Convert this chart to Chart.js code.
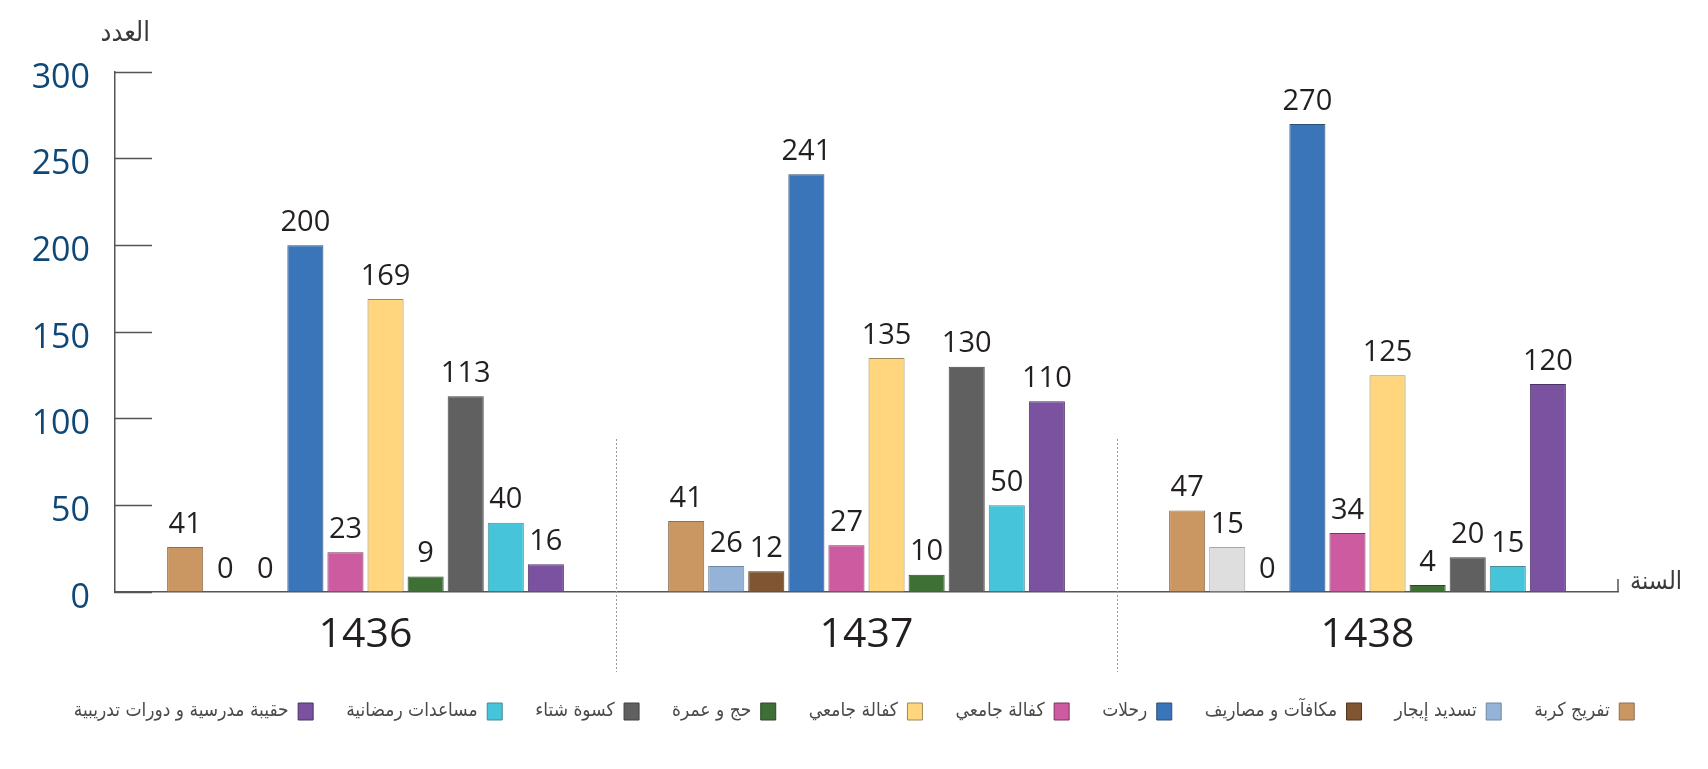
<!DOCTYPE html>
<html>
<head>
<meta charset="utf-8">
<script src="https://cdn.jsdelivr.net/npm/chart.js@4/dist/chart.umd.min.js"></script>
<style>
  html, body { margin: 0; padding: 0; background: #ffffff; }
  #wrap { width: 1708px; height: 769px; position: relative; }
</style>
</head>
<body>
<div id="wrap"><canvas id="c" width="1708" height="769"></canvas></div>
<script>
// ---- data ----
const years = ['1436', '1437', '1438'];
const seriesNames = [
  'تفريج كربة',
  'تسديد إيجار',
  'مكافآت و مصاريف',
  'رحلات',
  'كفالة جامعي',
  'كفالة جامعي',
  'حج و عمرة',
  'كسوة شتاء',
  'مساعدات رمضانية',
  'حقيبة مدرسية و دورات تدريبية'
];
// bar heights as drawn
const reliefValues    = [26, 41, 47];
const rentValues      = [0, 15, 26];
const rewardValues    = [0, 12, 0];
const tripValues      = [200, 241, 270];
const student1Values  = [23, 27, 34];
const student2Values  = [169, 135, 125];
const hajjValues      = [9, 10, 4];
const winterValues    = [113, 130, 20];
const ramadanValues   = [40, 50, 15];
const schoolValues    = [16, 110, 120];
// value labels as printed above the bars
const reliefLabels    = ['41', '41', '47'];
const rentLabels      = ['0', '26', '15'];
const rewardLabels    = ['0', '12', '0'];
const tripLabels      = ['200', '241', '270'];
const student1Labels  = ['23', '27', '34'];
const student2Labels  = ['169', '135', '125'];
const hajjLabels      = ['9', '10', '4'];
const winterLabels    = ['113', '130', '20'];
const ramadanLabels   = ['40', '50', '15'];
const schoolLabels    = ['16', '110', '120'];
const yTicks = [0, 50, 100, 150, 200, 250, 300];
const yAxisTitle = 'العدد';
const xAxisTitle = 'السنة';

// ---- styles ----
const allValues = [reliefValues, rentValues, rewardValues, tripValues, student1Values,
  student2Values, hajjValues, winterValues, ramadanValues, schoolValues];
const allLabels = [reliefLabels, rentLabels, rewardLabels, tripLabels, student1Labels,
  student2Labels, hajjLabels, winterLabels, ramadanLabels, schoolLabels];
const fills = ['#CA9763', ['#95B3D7', '#95B3D7', '#DEDEDE'], '#7F5631', '#3A74B9', '#CD5BA0',
  '#FFD57D', '#3E7035', '#606060', '#46C4D9', '#7B52A0'];
const strokes = ['#8C7055', ['#6F87A3', '#6F87A3', '#A8A8A8'], '#4F3520', '#2F4F75', '#7A3560',
  '#9C8A5A', '#2A4A24', '#404040', '#4A8A95', '#4A3265'];

const datasets = seriesNames.map((name, i) => ({
  label: name,
  data: allValues[i],
  valueLabels: allLabels[i],
  backgroundColor: fills[i],
  borderColor: strokes[i],
  borderWidth: 1,
  categoryPercentage: 0.8,
  barPercentage: 0.9
}));

const decorPlugin = {
  id: 'decor',
  afterDatasetsDraw(chart) {
    const ctx = chart.ctx;
    const xs = chart.scales.x;
    const ca = chart.chartArea;
    ctx.save();
    // value labels
    ctx.font = '29px "Open Sans", "Liberation Sans", sans-serif';
    ctx.fillStyle = '#231F20';
    ctx.textAlign = 'center';
    ctx.textBaseline = 'bottom';
    chart.data.datasets.forEach((ds, di) => {
      const meta = chart.getDatasetMeta(di);
      meta.data.forEach((el, j) => {
        ctx.fillText(ds.valueLabels[j], el.x, el.y - 8);
      });
    });
    // dotted separators between years
    ctx.strokeStyle = '#9A9A9A';
    ctx.lineWidth = 1;
    ctx.setLineDash([2, 2]);
    for (let i = 0; i < years.length - 1; i++) {
      const x = Math.round((xs.getPixelForValue(i) + xs.getPixelForValue(i + 1)) / 2) + 0.5;
      ctx.beginPath();
      ctx.moveTo(x, ca.bottom - 153);
      ctx.lineTo(x, ca.bottom + 80);
      ctx.stroke();
    }
    ctx.setLineDash([]);
    // end tick of the x axis
    ctx.strokeStyle = '#555555';
    ctx.lineWidth = 1.5;
    ctx.beginPath();
    ctx.moveTo(ca.right, ca.bottom - 13);
    ctx.lineTo(ca.right, ca.bottom);
    ctx.stroke();
    // axis titles
    ctx.fillStyle = '#3A3A3A';
    ctx.font = '27px "DejaVu Sans Condensed", "DejaVu Sans", sans-serif';
    ctx.textAlign = 'right';
    ctx.textBaseline = 'alphabetic';
    ctx.fillText(yAxisTitle, ca.left + 35, ca.top - 31);
    ctx.font = '25px "DejaVu Sans Condensed", "DejaVu Sans", sans-serif';
    ctx.textAlign = 'left';
    ctx.fillText(xAxisTitle, ca.right + 12, ca.bottom - 3);
    ctx.restore();
  }
};

new Chart(document.getElementById('c'), {
  type: 'bar',
  data: { labels: years, datasets: datasets },
  plugins: [decorPlugin],
  options: {
    responsive: false,
    animation: false,
    devicePixelRatio: 1,
    layout: { autoPadding: false, padding: { left: 0, right: 0, top: 72, bottom: 38 } },
    plugins: {
      tooltip: { enabled: false },
      legend: {
        position: 'bottom',
        align: 'center',
        rtl: true,
        textDirection: 'rtl',
        labels: {
          boxWidth: 15,
          boxHeight: 17,
          padding: 33,
          color: '#4A4A4A',
          font: { family: '"DejaVu Sans Condensed", "DejaVu Sans", sans-serif', size: 19 }
        }
      }
    },
    scales: {
      x: {
        type: 'category',
        offset: true,
        grid: { display: false },
        border: { display: true, color: '#555555', width: 1.5 },
        ticks: {
          color: '#231F20',
          padding: 11,
          font: { family: '"Open Sans", "Liberation Sans", sans-serif', size: 41 }
        },
        afterFit(s) { s.height = 77; }
      },
      y: {
        position: 'left',
        min: 0,
        max: 300,
        afterBuildTicks(s) { s.ticks = yTicks.map(v => ({ value: v })); },
        grid: {
          drawOnChartArea: false,
          drawTicks: true,
          tickLength: -37,
          tickColor: '#555555',
          tickWidth: 1.5
        },
        border: { display: true, color: '#555555', width: 1.5 },
        ticks: {
          color: '#0F4877',
          padding: 62,
          labelOffset: 6,
          font: { family: '"Open Sans", "Liberation Sans", sans-serif', size: 34 }
        },
        afterFit(s) { s.width = 115; s.paddingTop = 0; s.paddingBottom = 0; }
      },
      y2: {
        position: 'right',
        display: true,
        grid: { display: false },
        border: { display: false },
        ticks: { display: false },
        afterFit(s) { s.width = 90; s.paddingTop = 0; s.paddingBottom = 0; }
      }
    }
  }
});
</script>
</body>
</html>
